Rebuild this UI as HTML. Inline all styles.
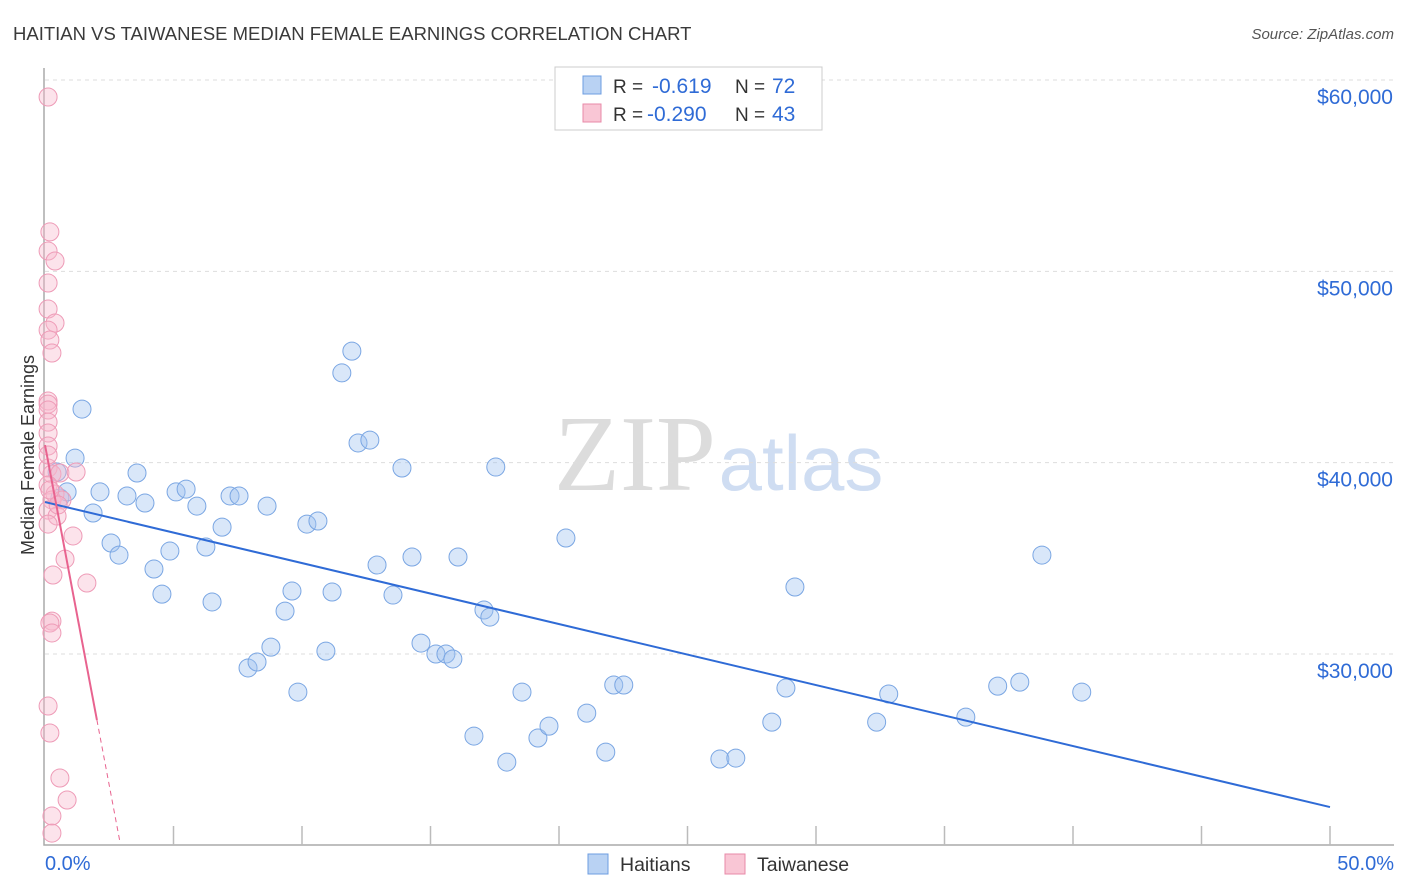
<!DOCTYPE html>
<html><head><meta charset="utf-8"><style>
body{margin:0;background:#fff;font-family:"Liberation Sans",sans-serif}
svg{display:block}
</style></head><body>
<svg id="c" width="1406" height="892">
<text x="13" y="40" font-size="18.5" fill="#3a3a3a">HAITIAN VS TAIWANESE MEDIAN FEMALE EARNINGS CORRELATION CHART</text>
<text x="1394" y="39" font-size="15" fill="#555" font-style="italic" text-anchor="end">Source: ZipAtlas.com</text>
<text x="635" y="490" font-size="108" font-family="Liberation Serif,serif" fill="#dcdcdc" text-anchor="middle">ZIP</text>
<text x="801" y="490" font-size="78" fill="#cfddf2" text-anchor="middle">atlas</text>
<text transform="translate(34,455) rotate(-90)" font-size="18" fill="#333" text-anchor="middle">Median Female Earnings</text>
<g id="grid"></g><g id="pts"></g><g id="lines"></g>
<g>
<rect x="555" y="67" width="267" height="63" fill="#fff" stroke="#ccc"/>
<rect x="583" y="76" width="18" height="18" fill="#b9d2f3" stroke="#6d9de0"/>
<rect x="583" y="104" width="18" height="18" fill="#f9c6d5" stroke="#e88aa8"/>
<text x="613" y="93" font-size="19" fill="#333">R = </text><text x="652" y="93" font-size="21" fill="#2f6bd6">-0.619</text>
<text x="735" y="93" font-size="19" fill="#333">N = </text><text x="772" y="93" font-size="21" fill="#2f6bd6">72</text>
<text x="613" y="121" font-size="19" fill="#333">R = </text><text x="647" y="121" font-size="21" fill="#2f6bd6">-0.290</text>
<text x="735" y="121" font-size="19" fill="#333">N = </text><text x="772" y="121" font-size="21" fill="#2f6bd6">43</text>
</g>
<g>
<rect x="588" y="854" width="20" height="20" fill="#b9d2f3" stroke="#6d9de0"/>
<text x="620" y="871" font-size="19.5" fill="#333">Haitians</text>
<rect x="725" y="854" width="20" height="20" fill="#f9c6d5" stroke="#e88aa8"/>
<text x="757" y="871" font-size="19.5" fill="#333">Taiwanese</text>
</g>
</svg>
<script>
const yTicks=[30000,40000,50000,60000];
const yTickLabels=["$30,000","$40,000","$50,000","$60,000"];
const xTickLabels=["0.0%","50.0%"];
const haitianX=[0.47,0.58,0.86,1.17,1.44,1.87,2.14,2.57,2.88,3.19,3.58,3.89,4.24,4.55,4.86,5.10,5.49,5.91,6.26,6.50,6.89,7.20,7.55,7.90,8.25,8.64,8.79,9.34,9.61,9.84,10.19,10.62,10.93,11.17,11.55,11.94,12.18,12.64,12.92,13.54,13.89,14.28,14.63,15.21,15.60,15.87,16.07,16.69,17.08,17.31,17.54,17.97,18.56,19.18,19.61,20.27,21.08,21.82,22.13,22.52,26.26,26.88,28.28,28.83,29.18,32.36,32.83,35.83,37.07,37.93,38.79,40.34];
const haitianY=[39510,38150,38470,40240,42800,37370,38470,35800,35170,38260,39460,37890,34440,33130,35380,38470,38620,37730,35590,32720,36630,38260,38260,29270,29580,37730,30360,32240,33290,28010,36790,36950,30150,33240,44690,45830,41030,41180,34650,33080,39720,35070,30570,30000,30000,29740,35070,25710,32300,31930,39770,24350,28010,25610,26230,36060,26910,24870,28380,28380,24510,24560,26440,28220,33500,26440,27910,26700,28320,28530,35170,28010];
const taiwanX=[0.12,0.19,0.12,0.39,0.12,0.12,0.39,0.12,0.19,0.27,0.12,0.12,0.12,0.12,0.12,0.12,0.12,0.27,0.58,1.21,0.12,0.39,0.27,0.66,0.12,0.47,0.12,1.09,0.78,0.31,1.63,0.27,0.19,0.27,0.12,0.19,0.58,0.86,0.27,0.27,0.19,0.51,0.12];
const taiwanY=[59110,52060,51060,50540,49390,48030,47300,46930,46410,45730,43220,43060,42750,42120,41550,40870,39720,39410,39460,39510,38830,38360,38050,38050,37520,37210,36790,36170,34960,34130,33710,31720,31620,31100,27280,25870,23520,22370,21530,20640,38570,37790,40400];
const haitianTrend=[[0,37940],[50,22000]];
const taiwanTrendSolid=[[0,40920],[2.02,26550]];
const taiwanTrendDash=[[2.02,26550],[2.92,20150]];
const X=p=>45+p/50*1285, Y=v=>80+(60000-v)/10000*191.33;
const NS="http://www.w3.org/2000/svg";
function mk(t,a,parent){const e=document.createElementNS(NS,t);for(const k in a)e.setAttribute(k,a[k]);parent.appendChild(e);return e;}
const grid=document.getElementById('grid'),pts=document.getElementById('pts'),lines=document.getElementById('lines'),svg=document.getElementById('c');
yTicks.forEach((v,i)=>{
 const g=mk('line',{x1:45,x2:1394,y1:Y(v),y2:Y(v),stroke:'#ddd','stroke-dasharray':'4,4'},grid);
 
 
 const t=mk('text',{x:1393,y:Y(v)+24,'font-size':21,fill:'#2f6bd6','text-anchor':'end'},svg);
 t.textContent=yTickLabels[i];
 
 
});
const ax=mk('path',{d:'M44,68 V845 H1394',fill:'none',stroke:'#aaa','stroke-width':1.5},grid);


for(let i=1;i<=10;i++){const tk=mk('line',{x1:X(i*5),x2:X(i*5),y1:826,y2:845,stroke:'#bbb','stroke-width':1.5},grid);
 
 }
[[0,'start',45],[50,'end',1394]].forEach((d,i)=>{const t=mk('text',{x:d[2],y:870,'font-size':20,fill:'#2f6bd6','text-anchor':d[1]},svg);t.textContent=xTickLabels[i];
 
 });
haitianX.forEach((x,i)=>{const c=mk('circle',{cx:X(x),cy:Y(haitianY[i]),r:9,fill:'rgba(160,195,240,0.4)',stroke:'#7aa6e3','stroke-width':1},pts);
 
 });
taiwanX.forEach((x,i)=>{const c=mk('circle',{cx:X(x),cy:Y(taiwanY[i]),r:9,fill:'rgba(248,185,205,0.4)',stroke:'#ee9bb7','stroke-width':1},pts);
 
 });
let l=mk('line',{x1:X(haitianTrend[0][0]),y1:Y(haitianTrend[0][1]),x2:X(haitianTrend[1][0]),y2:Y(haitianTrend[1][1]),stroke:'#2f6bd6','stroke-width':2},lines);


l=mk('line',{x1:X(taiwanTrendSolid[0][0]),y1:Y(taiwanTrendSolid[0][1]),x2:X(taiwanTrendSolid[1][0]),y2:Y(taiwanTrendSolid[1][1]),stroke:'#e8638f','stroke-width':2},lines);


l=mk('line',{x1:X(taiwanTrendDash[0][0]),y1:Y(taiwanTrendDash[0][1]),x2:X(taiwanTrendDash[1][0]),y2:Y(taiwanTrendDash[1][1]),stroke:'#e8638f','stroke-width':1,'stroke-dasharray':'5,4'},lines);


</script>
</body></html>
